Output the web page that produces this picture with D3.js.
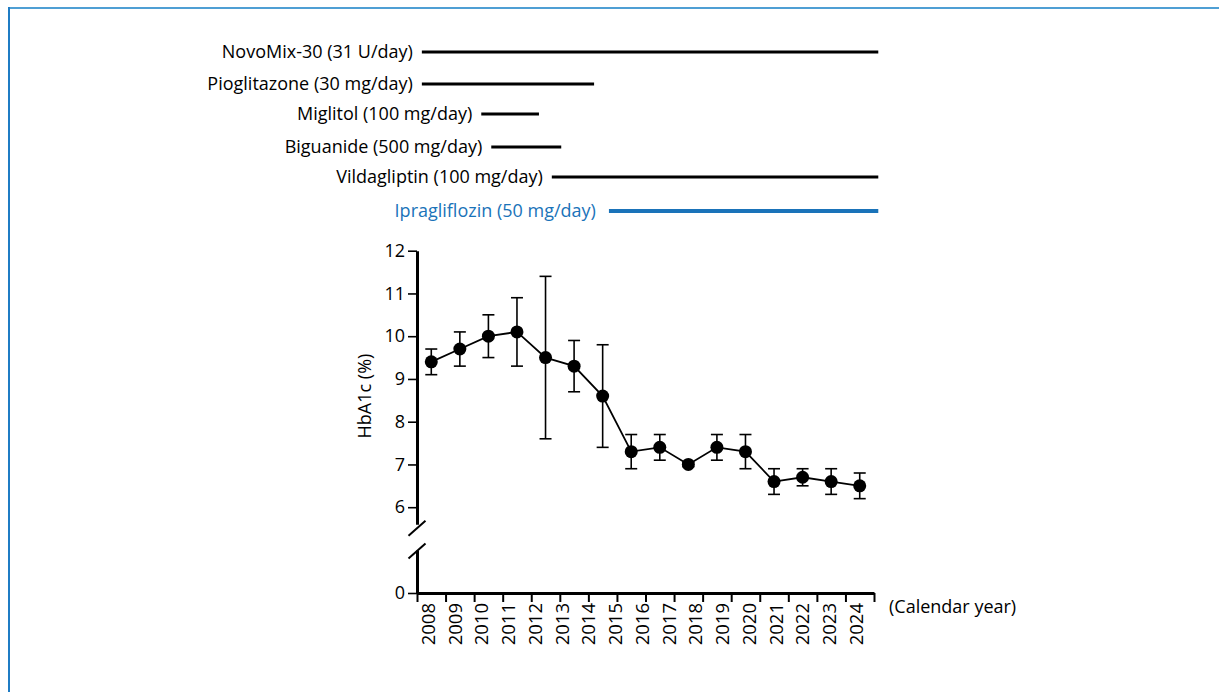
<!DOCTYPE html>
<html>
<head>
<meta charset="utf-8">
<script src="https://cdn.jsdelivr.net/npm/d3@7"></script>
<style>
  html, body { margin: 0; padding: 0; background: #fff; }
  svg { display: block; }
  text { font-family: "Open Sans", "Noto Sans", sans-serif; }
</style>
</head>
<body>
<svg id="chart" width="1219" height="692"></svg>
<script>
// ---- data ----
const yearLabels = ["2008","2009","2010","2011","2012","2013","2014","2015","2016","2017","2018","2019","2020","2021","2022","2023","2024"];
const hba1cMean = [9.4, 9.7, 10.0, 10.1, 9.5, 9.3, 8.6, 7.3, 7.4, 7.0, 7.4, 7.3, 6.6, 6.7, 6.6, 6.5];
const hba1cLow  = [9.1, 9.3, 9.5, 9.3, 7.6, 8.7, 7.4, 6.9, 7.1, 6.95, 7.1, 6.9, 6.3, 6.5, 6.3, 6.2];
const hba1cHigh = [9.7, 10.1, 10.5, 10.9, 11.4, 9.9, 9.8, 7.7, 7.7, 7.05, 7.7, 7.7, 6.9, 6.9, 6.9, 6.8];
const yTicksUpper = [6, 7, 8, 9, 10, 11, 12];
const yTicksLower = [0];
const drugNames = ["NovoMix-30 (31 U/day)", "Pioglitazone (30 mg/day)", "Miglitol (100 mg/day)", "Biguanide (500 mg/day)", "Vildagliptin (100 mg/day)", "Ipragliflozin (50 mg/day)"];
const drugStart = [2008.17, 2008.17, 2010.25, 2010.6, 2012.72, 2014.72];
const drugEnd   = [2024.15, 2014.2, 2012.27, 2013.05, 2024.15, 2024.15];

// ---- layout ----
const svg = d3.select("#chart");
const x0 = 417, x1 = 874;
const xTime = d3.scaleLinear().domain([2008, 2024]).range([x0, x1]);
const xLabel = d3.scalePoint().domain(yearLabels).range([428, 856]);
const yUpper = d3.scaleLinear().domain([5.6, 12]).range([524.3, 250.7]);
const yLower = d3.scaleLinear().domain([0, 1]).range([593, 550]);
const FONT = '"Open Sans", "Noto Sans", sans-serif';

// frame
svg.append("line").attr("x1", 8).attr("x2", 1219).attr("y1", 8).attr("y2", 8)
  .attr("stroke", "#4f9fd4").attr("stroke-width", 2);
svg.append("line").attr("x1", 9).attr("x2", 9).attr("y1", 7).attr("y2", 692)
  .attr("stroke", "#1f7cc4").attr("stroke-width", 2);

// drug timeline
const rowY = [52, 84, 114, 147, 177, 211];
drugNames.forEach((name, i) => {
  const isNew = i === drugNames.length - 1;
  const col = isNew ? "#1a73b9" : "#000";
  svg.append("line")
    .attr("x1", xTime(drugStart[i])).attr("x2", xTime(drugEnd[i]))
    .attr("y1", rowY[i]).attr("y2", rowY[i])
    .attr("stroke", col).attr("stroke-width", isNew ? 4 : 3);
  svg.append("text")
    .attr("x", xTime(drugStart[i]) - (isNew ? 13 : 9))
    .attr("y", rowY[i])
    .attr("dy", "0.35em")
    .attr("text-anchor", "end")
    .attr("font-size", 18)
    .attr("fill", col)
    .text(name);
});

// y axis
const gyU = svg.append("g").attr("transform", `translate(${x0},0)`)
  .call(d3.axisLeft(yUpper).tickValues(yTicksUpper).tickFormat(d3.format("d")).tickSize(9).tickSizeOuter(0).tickPadding(3));
const gyL = svg.append("g").attr("transform", `translate(${x0},0)`)
  .call(d3.axisLeft(yLower).tickValues(yTicksLower).tickFormat(d3.format("d")).tickSize(9).tickSizeOuter(0).tickPadding(3));
[gyU, gyL].forEach(g => {
  g.select(".domain").attr("stroke-width", 3).attr("stroke", "#000");
  g.selectAll(".tick line").attr("stroke-width", 1.6);
  g.selectAll(".tick text").attr("font-size", 18).attr("fill", "#000")
    .style("font-family", FONT);
});

// axis break marks
[yUpper(5.6) + 4, yLower(1) + 1].forEach(cy => {
  svg.append("line")
    .attr("x1", x0 - 8.5).attr("y1", cy + 7.5)
    .attr("x2", x0 + 8.5).attr("y2", cy - 7.5)
    .attr("stroke", "#000").attr("stroke-width", 2);
});

// x axis ticks
const gx = svg.append("g").attr("transform", `translate(0,${yLower(0)})`)
  .call(d3.axisBottom(xTime).tickValues(d3.range(2008, 2025)).tickFormat("").tickSize(9).tickSizeOuter(0));
gx.select(".domain").attr("stroke-width", 3).attr("stroke", "#000");
gx.selectAll(".tick line").attr("stroke-width", 2);

// x labels
const gxl = svg.append("g").attr("transform", `translate(0,${yLower(0) + 10})`)
  .call(d3.axisBottom(xLabel).tickSize(0).tickPadding(0));
gxl.select(".domain").remove();
gxl.selectAll(".tick text")
  .attr("font-size", 18.5).attr("fill", "#000")
  .style("font-family", FONT)
  .attr("transform", "rotate(-90)")
  .attr("text-anchor", "end")
  .attr("x", 0).attr("y", 0).attr("dy", "0.35em");

svg.append("text").attr("x", 889).attr("y", 607).attr("dy", "0.35em")
  .attr("font-size", 18).text("(Calendar year)");

svg.append("text")
  .attr("transform", `translate(365,${yUpper(8.6)}) rotate(-90)`)
  .attr("text-anchor", "middle").attr("dy", "0.35em")
  .attr("font-size", 18).text("HbA1c (%)");

// data
const px = i => xTime(2008.5 + i);
const pts = hba1cMean.map((v, i) => ({ i, v, lo: hba1cLow[i], hi: hba1cHigh[i] }));

const eb = svg.append("g").attr("stroke", "#000").attr("stroke-width", 1.6);
pts.forEach(p => {
  eb.append("line").attr("x1", px(p.i)).attr("x2", px(p.i)).attr("y1", yUpper(p.lo)).attr("y2", yUpper(p.hi));
  [p.lo, p.hi].forEach(v => eb.append("line")
    .attr("x1", px(p.i) - 6).attr("x2", px(p.i) + 6)
    .attr("y1", yUpper(v)).attr("y2", yUpper(v)));
});

svg.append("path").datum(pts)
  .attr("fill", "none").attr("stroke", "#000").attr("stroke-width", 1.8)
  .attr("d", d3.line().x(d => px(d.i)).y(d => yUpper(d.v)));

svg.selectAll("circle.pt").data(pts).enter().append("circle")
  .attr("class", "pt")
  .attr("cx", d => px(d.i)).attr("cy", d => yUpper(d.v)).attr("r", 6.5)
  .attr("fill", "#000");
</script>
</body>
</html>
